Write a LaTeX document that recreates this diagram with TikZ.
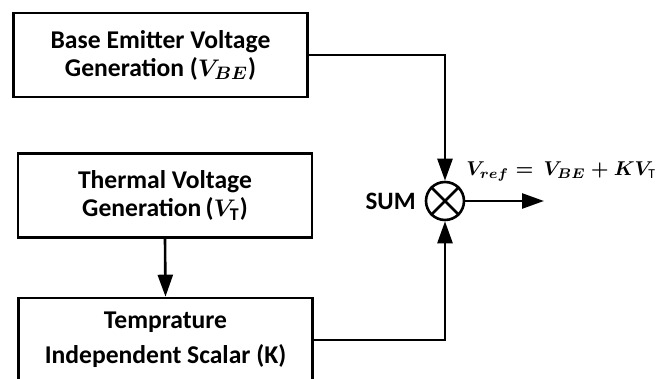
\documentclass[tikz,border=0pt]{standalone}
\usepackage{amsmath}
\usepackage{amssymb}
\usepackage{xcolor}
\usepackage{fontspec}
\setmainfont{Carlito}
\usepackage{tikz}
\usetikzlibrary{arrows.meta, positioning}

\begin{document}
\begin{tikzpicture}[
  x=0.5pt, y=-0.5pt,
  blockbox/.style={rectangle, draw=black, line width=1.3pt, inner sep=0pt,
              minimum width=147pt, minimum height=42pt, align=center,
              font=\fontsize{12.8}{14}\selectfont\bfseries\boldmath},
  sumnode/.style={circle, draw=black, line width=1.3pt, minimum size=19pt, inner sep=0pt},
  arrow/.style={-{Triangle[length=11pt, width=7.5pt]}, line width=1.3pt},
  wire/.style={line width=1.3pt}
]
\clip (0,0) rectangle (666,379);
\fill[white] (0,0) rectangle (666,379);

\node[blockbox] (vbe) at (160.5,55) {%
  Base Emitter Voltage\\
  Generation ($V_{BE}$)
};
\node[blockbox] (vt) at (165,195.5) {%
  Thermal Voltage\\
  Generation\,($V_{\text{T}}$)
};
\node[blockbox] (scalar) at (165.5,340) {%
  Temprature\\[3.5pt]
  Independent Scalar (K)
};
\node[sumnode] (sum) at (445,201) {};
\draw[wire] (sum.north east) -- (sum.south west);
\draw[wire] (sum.north west) -- (sum.south east);
\node[left=1pt of sum, font=\fontsize{12.5}{14}\selectfont\bfseries] (sumlabel) {SUM};
\node[anchor=base west, inner sep=0pt, font=\fontsize{9.8}{12}\selectfont\boldmath] (eq) at (466,176)
  {$V_{ref} = \,V_{BE} + KV_{\text{T}}$};
\coordinate (out) at (544,201);

\draw[arrow] (vbe.east) -| (sum.north);
\draw[arrow] (vt.south) -- (scalar.north);
\draw[arrow] (scalar.east) -| (sum.south);
\draw[arrow] (sum.east) -- (out);
\end{tikzpicture}
\end{document}
